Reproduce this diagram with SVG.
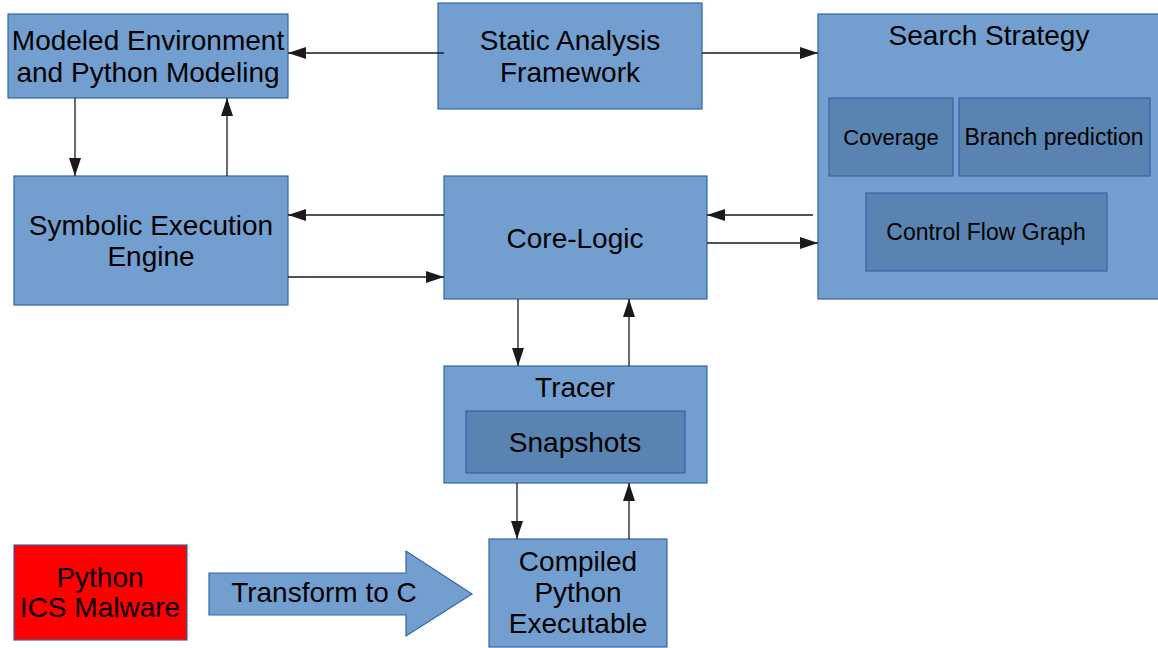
<svg xmlns="http://www.w3.org/2000/svg" width="1158" height="648" viewBox="0 0 1158 648">
<style>
.box{fill:#729fcf;stroke:#3465a4;stroke-width:1.2}
.inner{fill:#5983b0;stroke:#3465a4;stroke-width:1.2}
.red{fill:#ff0000;stroke:#3465a4;stroke-width:1.2}
text{font-family:"Liberation Sans",Arial,sans-serif;font-size:28px;fill:#000;text-anchor:middle}
.sm{font-size:23px}
.xs{font-size:22px}
.c{fill:none;stroke:#1a1a1a;stroke-width:1.3;marker-end:url(#ah)}
</style>
<defs>
<marker id="ah" markerUnits="userSpaceOnUse" markerWidth="18" markerHeight="12" refX="18" refY="6" orient="auto">
<path d="M0,0 L18,6 L0,12 z" fill="#1a1a1a"/>
</marker>
</defs>
<rect width="1158" height="648" fill="#fff"/>
<g id="modeled">
<rect class="box" x="8" y="14" width="280" height="84"/>
<text x="148" y="50">Modeled Environment</text>
<text x="148" y="82">and Python Modeling</text>
</g>
<g id="static">
<rect class="box" x="438" y="3" width="264" height="106"/>
<text x="570" y="50">Static Analysis</text>
<text x="570" y="82">Framework</text>
</g>
<g id="search">
<rect class="box" x="818" y="14" width="345" height="285"/>
<text x="989" y="45">Search Strategy</text>
<g id="coverage">
<rect class="inner" x="829" y="98" width="124" height="78"/>
<text class="xs" x="891" y="145">Coverage</text>
</g>
<g id="branch">
<rect class="inner" x="959" y="98" width="191" height="78"/>
<text class="sm" x="1054" y="145">Branch prediction</text>
</g>
<g id="cfg">
<rect class="inner" x="866" y="193" width="241" height="78"/>
<text class="sm" x="986" y="240">Control Flow Graph</text>
</g>
</g>
<g id="symbolic">
<rect class="box" x="14" y="176" width="274" height="129"/>
<text x="151" y="235">Symbolic Execution</text>
<text x="151" y="266">Engine</text>
</g>
<g id="core">
<rect class="box" x="444" y="176" width="263" height="123"/>
<text x="575" y="248">Core-Logic</text>
</g>
<g id="tracer">
<rect class="box" x="444" y="366" width="263" height="117"/>
<text x="575" y="397">Tracer</text>
<g id="snapshots">
<rect class="inner" x="466" y="411" width="219" height="62"/>
<text x="575" y="452">Snapshots</text>
</g>
</g>
<g id="malware">
<rect class="red" x="14" y="545" width="173" height="95"/>
<text x="100" y="587">Python</text>
<text x="100" y="617">ICS Malware</text>
</g>
<g id="transform">
<path class="box" d="M209,573 L406,573 L406,551 L472,594 L406,636 L406,615 L209,615 z"/>
<text x="324" y="602">Transform to C</text>
</g>
<g id="compiled">
<rect class="box" x="489" y="539" width="178" height="108"/>
<text x="578" y="571">Compiled</text>
<text x="578" y="602">Python</text>
<text x="578" y="633">Executable</text>
</g>
<g id="connectors">
<path class="c" d="M444,53 L288,53"/>
<path class="c" d="M702,53 L818,53"/>
<path class="c" d="M75,98 L75,176"/>
<path class="c" d="M227,176 L227,98"/>
<path class="c" d="M444,215 L288,215"/>
<path class="c" d="M288,277 L444,277"/>
<path class="c" d="M813,215 L707,215"/>
<path class="c" d="M707,243 L818,243"/>
<path class="c" d="M518,299 L518,366"/>
<path class="c" d="M629,366 L629,299"/>
<path class="c" d="M517,483 L517,539"/>
<path class="c" d="M629,539 L629,483"/>
</g>
</svg>
